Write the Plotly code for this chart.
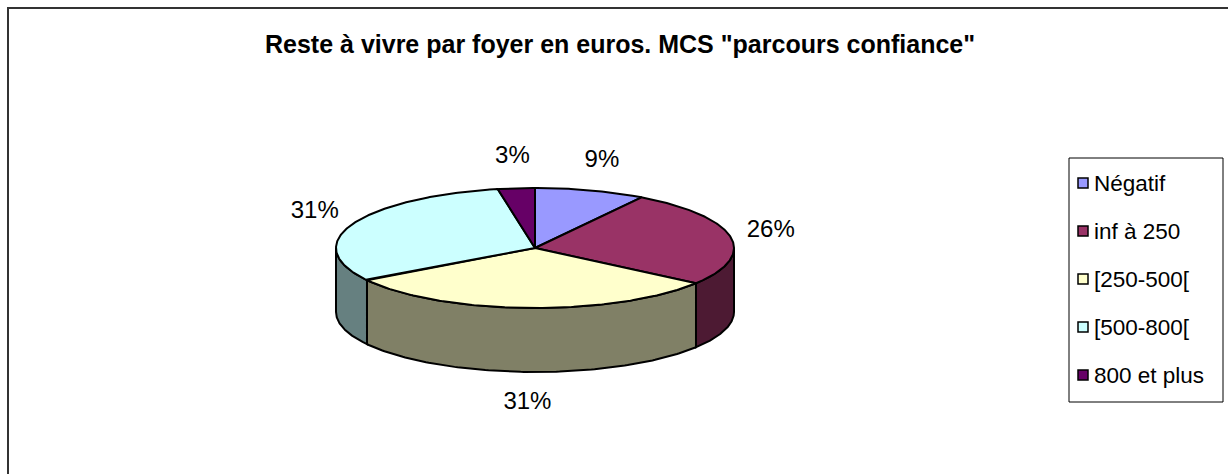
import numpy as np
import plotly.graph_objects as go

# Household "reste à vivre" distribution (MCS "parcours confiance")
categories = ["Négatif", "inf à 250", "[250-500[", "[500-800[", "800 et plus"]
shares = [9, 26, 31, 31, 3]
pct_labels = ["9%", "26%", "31%", "31%", "3%"]
top_colors = ["#9999FF", "#993366", "#FFFFCC", "#CCFFFF", "#660066"]
side_colors = ["#4C4C80", "#4D1A33", "#808066", "#668080", "#330033"]
title_text = 'Reste à vivre par foyer en euros. MCS "parcours confiance"'

W, H = 1228, 474
FONT = "Arial, Liberation Sans, sans-serif"

# 3D pie geometry (pixel units, y grows downward)
CX, CY, RX, RY, DEPTH = 535, 248, 199, 60, 64
LAB_RX, LAB_RY = 240, 91


def rim(theta):
    """Point on the top ellipse, theta clockwise from 12 o'clock."""
    return CX + RX * np.sin(theta), CY - RY * np.cos(theta)


total = float(sum(shares))
bounds = np.concatenate([[0.0], np.cumsum(shares)]) / total * 2 * np.pi

fig = go.Figure()

# Front walls of the pie (visible half: theta between 90° and 270°)
for i in range(len(shares)):
    a0 = max(bounds[i], np.pi / 2)
    a1 = min(bounds[i + 1], 3 * np.pi / 2)
    if a1 <= a0:
        continue
    t = np.linspace(a0, a1, 120)
    x, y = rim(t)
    xs = np.concatenate([x, x[::-1], [x[0]]])
    ys = np.concatenate([y, y[::-1] + DEPTH, [y[0]]])
    fig.add_trace(go.Scatter(
        x=xs, y=ys, mode="lines", fill="toself",
        fillcolor=side_colors[i], line=dict(color="black", width=2),
        hoverinfo="skip", showlegend=False))

# Top faces of the slices
for i in range(len(shares)):
    n = max(int(shares[i] * 6), 12)
    t = np.linspace(bounds[i], bounds[i + 1], n)
    x, y = rim(t)
    xs = np.concatenate([[CX], x, [CX]])
    ys = np.concatenate([[CY], y, [CY]])
    fig.add_trace(go.Scatter(
        x=xs, y=ys, mode="lines", fill="toself",
        fillcolor=top_colors[i], line=dict(color="black", width=2),
        name=categories[i], hoverinfo="name", showlegend=False))

# Percentage labels placed around the pie at each slice's mid-angle
mids = (bounds[:-1] + bounds[1:]) / 2
lx = CX + LAB_RX * np.sin(mids)
ly = CY - LAB_RY * np.cos(mids) + np.where(np.cos(mids) < 0, DEPTH, 0)
fig.add_trace(go.Scatter(
    x=lx, y=ly, mode="text", text=pct_labels,
    textfont=dict(family=FONT, size=24, color="black"),
    hoverinfo="skip", showlegend=False))

# Legend: bordered box with square keys
LEG_X0, LEG_X1, LEG_Y0, LEG_Y1 = 1069, 1223, 158, 402
key_y = [183 + 48 * i for i in range(len(categories))]
fig.add_shape(type="rect", xref="x", yref="y",
              x0=LEG_X0, x1=LEG_X1, y0=LEG_Y0, y1=LEG_Y1,
              line=dict(color="black", width=1), fillcolor="white", layer="below")
fig.add_trace(go.Scatter(
    x=[1083] * len(categories), y=key_y, mode="markers",
    marker=dict(symbol="square", size=10, color=top_colors,
                line=dict(color="black", width=1.5)),
    hoverinfo="skip", showlegend=False))
for cat, yy in zip(categories, key_y):
    fig.add_annotation(x=1092, y=yy, text=cat, showarrow=False,
                       xanchor="left", yanchor="middle",
                       font=dict(family=FONT, size=22.5, color="black"))

# Chart frame
fig.add_shape(type="rect", xref="x", yref="y", x0=8, x1=1229, y0=8, y1=477,
              line=dict(color="#333333", width=2), layer="below")

fig.add_annotation(x=620, y=44, text=title_text, showarrow=False,
                   xanchor="center", yanchor="middle",
                   font=dict(family=FONT, size=25, color="black", weight="bold"))

fig.update_layout(
    width=W, height=H,
    margin=dict(l=0, r=0, t=0, b=0),
    paper_bgcolor="white", plot_bgcolor="white",
    xaxis=dict(range=[0, W], visible=False, fixedrange=True),
    yaxis=dict(range=[H, 0], visible=False, fixedrange=True),
    showlegend=False,
)

fig.write_html("out.html")
